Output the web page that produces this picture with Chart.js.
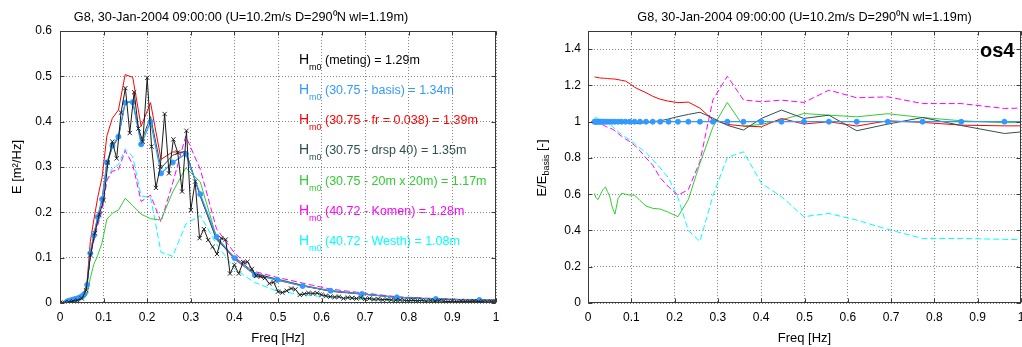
<!DOCTYPE html>
<html lang="en">
<head>
<meta charset="UTF-8">
<title>G8 spectra</title>
<script src="https://cdn.jsdelivr.net/npm/chart.js"></script>
<style>
html, body { margin: 0; padding: 0; overflow: hidden; background: #fff; }
body { width: 1022px; height: 347px; position: relative; }
#spec { position: absolute; left: -14px; top: 0; }
#ratio { position: absolute; left: 511px; top: 0; }
</style>
</head>
<body>
<canvas id="spec" width="524" height="347"></canvas>
<canvas id="ratio" width="529" height="347"></canvas>
<script>
// measured spectrum (buoy), df = 0.01 Hz
const measFreq = [
  0.00, 0.01, 0.02, 0.03, 0.04, 0.05, 0.06, 0.07, 0.08, 0.09,
  0.10, 0.11, 0.12, 0.13, 0.14, 0.15, 0.16, 0.17, 0.18, 0.19,
  0.20, 0.21, 0.22, 0.23, 0.24, 0.25, 0.26, 0.27, 0.28, 0.29,
  0.30, 0.31, 0.32, 0.33, 0.34, 0.35, 0.36, 0.37, 0.38, 0.39,
  0.40, 0.41, 0.42, 0.43, 0.44, 0.45, 0.46, 0.47, 0.48, 0.49,
  0.50, 0.51, 0.52, 0.53, 0.54, 0.55, 0.56, 0.57, 0.58, 0.59,
  0.60, 0.61, 0.62, 0.63, 0.64, 0.65, 0.66, 0.67, 0.68, 0.69,
  0.70, 0.71, 0.72, 0.73, 0.74, 0.75, 0.76, 0.77, 0.78, 0.79,
  0.80, 0.81, 0.82, 0.83, 0.84, 0.85, 0.86, 0.87, 0.88, 0.89,
  0.90, 0.91, 0.92, 0.93, 0.94, 0.95, 0.96, 0.97, 0.98, 0.99,
  1.00
];
const eMeting = [
  0.000, 0.001, 0.002, 0.004, 0.006, 0.010, 0.028, 0.106, 0.154, 0.195,
  0.227, 0.310, 0.356, 0.319, 0.420, 0.474, 0.375, 0.465, 0.385, 0.356,
  0.497, 0.345, 0.254, 0.300, 0.417, 0.286, 0.361, 0.332, 0.246, 0.380,
  0.205, 0.268, 0.143, 0.163, 0.139, 0.124, 0.108, 0.143, 0.140, 0.065,
  0.084, 0.065, 0.090, 0.091, 0.075, 0.060, 0.058, 0.055, 0.043, 0.046,
  0.025, 0.023, 0.027, 0.032, 0.030, 0.018, 0.020, 0.022, 0.021, 0.022,
  0.018, 0.016, 0.014, 0.013, 0.014, 0.010, 0.012, 0.011, 0.010, 0.012,
  0.009, 0.010, 0.008, 0.009, 0.007, 0.008, 0.007, 0.006, 0.007, 0.006,
  0.005, 0.006, 0.005, 0.006, 0.004, 0.005, 0.004, 0.005, 0.004, 0.003,
  0.004, 0.003, 0.004, 0.003, 0.003, 0.004, 0.003, 0.003, 0.002, 0.003,
  0.003
];

// model frequency grid (logarithmic)
const modelFreq = [
  0.0150, 0.0168, 0.0187, 0.0208, 0.0233, 0.0260, 0.0290, 0.0323, 0.0360, 0.0402,
  0.0448, 0.0500, 0.0558, 0.0623, 0.0695, 0.0775, 0.0865, 0.0965, 0.1076, 0.1201,
  0.1340, 0.1495, 0.1668, 0.1861, 0.2077, 0.2317, 0.2585, 0.2884, 0.3218, 0.3590,
  0.4006, 0.4469, 0.4986, 0.5563, 0.6207, 0.6925, 0.7726, 0.8620, 0.9618, 1.0731
];

// left panel: energy density E [m2/Hz]
const eBasis = [
  0.002, 0.003, 0.004, 0.005, 0.005, 0.006, 0.007, 0.008, 0.009, 0.010,
  0.012, 0.015, 0.020, 0.040, 0.110, 0.149, 0.190, 0.229, 0.310, 0.347,
  0.367, 0.442, 0.443, 0.350, 0.400, 0.286, 0.310, 0.329, 0.240, 0.146,
  0.099, 0.062, 0.051, 0.0375, 0.027, 0.0198, 0.0125, 0.0088, 0.0066, 0.0050
];
const eFr = [
  0.0025, 0.0037, 0.0050, 0.0062, 0.0062, 0.0075, 0.0087, 0.0099, 0.0112, 0.0124,
  0.0149, 0.0186, 0.0247, 0.0494, 0.1355, 0.1830, 0.2326, 0.2771, 0.3689, 0.4077,
  0.4257, 0.5039, 0.4979, 0.3896, 0.4420, 0.3169, 0.3333, 0.3323, 0.2364, 0.1425,
  0.0962, 0.0631, 0.0503, 0.0375, 0.0264, 0.0199, 0.0125, 0.0086, 0.0064, 0.0049
];
const eDrsp = [
  0.002, 0.003, 0.004, 0.005, 0.005, 0.006, 0.007, 0.008, 0.009, 0.010,
  0.012, 0.015, 0.020, 0.040, 0.110, 0.149, 0.190, 0.229, 0.3069, 0.3435,
  0.3652, 0.442, 0.4452, 0.3553, 0.4112, 0.2974, 0.3261, 0.3356, 0.2352, 0.1393,
  0.1008, 0.0660, 0.0519, 0.0389, 0.0257, 0.0195, 0.0128, 0.0086, 0.0062, 0.0048
];
const eGrid20 = [
  0.0012, 0.0018, 0.0024, 0.0029, 0.0029, 0.0035, 0.0042, 0.0050, 0.0058, 0.0063,
  0.0073, 0.0089, 0.0108, 0.0196, 0.055, 0.085, 0.105, 0.133, 0.185, 0.198,
  0.205, 0.231, 0.215, 0.196, 0.186, 0.183, 0.245, 0.298, 0.267, 0.145,
  0.0975, 0.0626, 0.0533, 0.0389, 0.0277, 0.0207, 0.0128, 0.0088, 0.0066, 0.0050
];
const eKomen = [
  0.0020, 0.0030, 0.0040, 0.0050, 0.0050, 0.0060, 0.0069, 0.0079, 0.0088, 0.0098,
  0.0116, 0.0145, 0.0192, 0.0380, 0.103, 0.137, 0.172, 0.204, 0.270, 0.291,
  0.294, 0.336, 0.306, 0.224, 0.238, 0.179, 0.265, 0.368, 0.295, 0.1635,
  0.110, 0.0694, 0.0564, 0.0440, 0.0306, 0.0225, 0.0138, 0.0097, 0.0071, 0.0054
];
const eWesth = [
  0.0020, 0.0031, 0.0041, 0.0051, 0.0051, 0.0061, 0.0070, 0.0080, 0.0090, 0.0100,
  0.0119, 0.0148, 0.0195, 0.0384, 0.104, 0.1386, 0.174, 0.206, 0.273, 0.297,
  0.305, 0.340, 0.323, 0.236, 0.233, 0.112, 0.103, 0.174, 0.193, 0.130,
  0.075, 0.045, 0.026, 0.0185, 0.0123, 0.0080, 0.0045, 0.0031, 0.0023, 0.0017
];

// right panel: E / E_basis [-]
const rBasis = [
  1, 1, 1, 1, 1, 1, 1, 1, 1, 1, 1, 1, 1, 1, 1, 1, 1, 1, 1, 1,
  1, 1, 1, 1, 1, 1, 1, 1, 1, 1, 1, 1, 1, 1, 1, 1, 1, 1, 1, 1
];
const rFr = [
  1.247, 1.246, 1.245, 1.244, 1.243, 1.242, 1.241, 1.240, 1.240, 1.239,
  1.238, 1.237, 1.236, 1.235, 1.232, 1.228, 1.224, 1.210, 1.190, 1.175,
  1.160, 1.140, 1.124, 1.113, 1.105, 1.108, 1.075, 1.010, 0.985, 0.976,
  0.972, 1.018, 0.987, 1.000, 0.976, 1.005, 0.996, 0.981, 0.977, 0.977
];
const rDrsp = [
  1.000, 1.000, 1.000, 1.000, 1.000, 1.000, 1.000, 1.000, 1.000, 1.000,
  1.000, 1.000, 1.000, 1.000, 1.000, 0.998, 0.996, 0.994, 0.990, 0.990,
  0.995, 1.000, 1.005, 1.015, 1.028, 1.040, 1.052, 1.020, 0.980, 0.954,
  1.018, 1.064, 1.018, 1.036, 0.950, 0.987, 1.023, 0.979, 0.935, 0.960
];
const rGrid20 = [
  0.604, 0.590, 0.580, 0.575, 0.571, 0.585, 0.600, 0.615, 0.630, 0.640,
  0.615, 0.590, 0.530, 0.490, 0.577, 0.605, 0.600, 0.595, 0.595, 0.565,
  0.535, 0.522, 0.518, 0.500, 0.476, 0.570, 0.770, 0.970, 1.106, 0.975,
  0.985, 1.010, 1.045, 1.036, 1.027, 1.044, 1.023, 1.005, 0.994, 1.000
];
const rKomen = [
  1.010, 1.010, 1.008, 1.005, 1.000, 0.995, 0.990, 0.985, 0.980, 0.975,
  0.970, 0.965, 0.960, 0.950, 0.935, 0.920, 0.905, 0.890, 0.870, 0.840,
  0.800, 0.760, 0.690, 0.640, 0.595, 0.625, 0.780, 1.120, 1.251, 1.120,
  1.110, 1.119, 1.106, 1.174, 1.132, 1.137, 1.100, 1.100, 1.073, 1.078
];
const rWesth = [
  1.020, 1.022, 1.023, 1.020, 1.015, 1.010, 1.005, 1.000, 0.998, 0.995,
  0.990, 0.985, 0.975, 0.960, 0.945, 0.930, 0.915, 0.900, 0.880, 0.855,
  0.830, 0.790, 0.745, 0.690, 0.580, 0.400, 0.340, 0.590, 0.803, 0.834,
  0.660, 0.586, 0.476, 0.494, 0.457, 0.406, 0.356, 0.356, 0.351, 0.347
];

const legendLabels = [
  '(meting) = 1.29m',
  '(30.75 - basis) = 1.34m',
  '(30.75 - fr = 0.038) = 1.39m',
  '(30.75 - drsp 40) = 1.35m',
  '(30.75 - 20m x 20m) = 1.17m',
  '(40.72 - Komen) = 1.28m',
  '(40.72 - Westh) = 1.08m'
];

const chartTitle = 'G8, 30-Jan-2004 09:00:00 (U=10.2m/s D=290\u2070N wl=1.19m)';

const BLACK = '#000000', BLUE = '#3399ff', RED = '#ff0000', SLATE = '#2f4f4f';
const GREEN = '#33cc33', MAGENTA = '#ff00ff', CYAN = '#00ffff';
const legendColors = [BLACK, BLUE, RED, SLATE, GREEN, MAGENTA, CYAN];

Chart.defaults.font.family = "'Liberation Sans', Arial, sans-serif";
Chart.defaults.color = '#000';

const fmt = v => String(Math.round(v * 10) / 10);

function series(xs, ys, color, extra) {
  return Object.assign({
    data: ys.map((y, i) => ({ x: xs[i], y: y })),
    borderColor: color,
    backgroundColor: color,
    borderWidth: 1,
    pointRadius: 0,
    fill: false
  }, extra || {});
}

function modelSets(vals) {
  return [
    series(modelFreq, vals[0], BLUE, { borderWidth: 1.2, pointRadius: 2.5, pointBorderWidth: 1, order: 1 }),
    series(modelFreq, vals[1], RED, { order: 3 }),
    series(modelFreq, vals[2], SLATE, { order: 2 }),
    series(modelFreq, vals[3], GREEN, { order: 4 }),
    series(modelFreq, vals[4], MAGENTA, { borderDash: [6, 3], order: 5 }),
    series(modelFreq, vals[5], CYAN, { borderDash: [6, 3], order: 6 })
  ];
}

function scalesFor(yMax, yStep, yWidth, yPad, yTitle) {
  const grid = { color: '#858585', lineWidth: 1, drawTicks: false };
  const border = { display: false, dash: [1, 2] };
  return {
    x: {
      type: 'linear', min: 0, max: 1,
      afterFit: s => { s.height = 44; },
      ticks: { stepSize: 0.1, autoSkip: false, maxRotation: 0, padding: 7, font: { size: 12 }, callback: fmt },
      grid: grid, border: border,
      title: { display: true, text: 'Freq [Hz]', font: { size: 13 }, padding: { top: 0, bottom: 1 } }
    },
    y: {
      min: 0, max: yMax,
      afterFit: s => { s.width = yWidth; },
      ticks: { stepSize: yStep, includeBounds: false, padding: yPad, font: { size: 12 }, callback: fmt },
      grid: grid, border: border,
      title: yTitle ? { display: true, text: yTitle, font: { size: 13 }, padding: { top: 24, bottom: 0 } } : { display: false }
    }
  };
}

// solid axes box with inward tick marks
const framePlugin = {
  id: 'frame',
  afterDraw(chart) {
    const { ctx, chartArea: a, scales } = chart;
    const l = Math.round(a.left) + 0.5, r = Math.round(a.right) - 0.5;
    const t = Math.round(a.top) + 0.5, b = Math.round(a.bottom) - 0.5;
    ctx.save();
    ctx.strokeStyle = '#3a3a3a';
    ctx.lineWidth = 1;
    ctx.strokeRect(l, t, r - l, b - t);
    ctx.beginPath();
    scales.x.ticks.forEach(tk => {
      const px = Math.round(scales.x.getPixelForValue(tk.value)) + 0.5;
      ctx.moveTo(px, b); ctx.lineTo(px, b - 4);
      ctx.moveTo(px, t); ctx.lineTo(px, t + 4);
    });
    scales.y.ticks.forEach(tk => {
      const py = Math.round(scales.y.getPixelForValue(tk.value)) + 0.5;
      ctx.moveTo(l, py); ctx.lineTo(l + 4, py);
      ctx.moveTo(r, py); ctx.lineTo(r - 4, py);
    });
    ctx.stroke();
    ctx.restore();
  }
};

const FONT = "'Liberation Sans', Arial, sans-serif";

const legendPlugin = {
  id: 'hm0Legend',
  beforeDraw(chart) {
    const ctx = chart.ctx;
    ctx.save();
    ctx.textBaseline = 'alphabetic';
    ctx.textAlign = 'left';
    legendLabels.forEach((txt, i) => {
      const y = 63.5 + i * 30.3;
      ctx.fillStyle = legendColors[i];
      ctx.font = '14px ' + FONT;
      ctx.fillText('H', 313, y);
      ctx.font = '9px ' + FONT;
      ctx.fillText('m0', 323, y + 6);
      ctx.font = '12.5px ' + FONT;
      ctx.fillText(txt, 339, y);
    });
    ctx.restore();
  }
};

const ratioNotes = {
  id: 'ratioNotes',
  afterDraw(chart) {
    const ctx = chart.ctx;
    ctx.save();
    ctx.fillStyle = '#000';
    ctx.font = 'bold 20px ' + FONT;
    ctx.textBaseline = 'alphabetic';
    ctx.fillText('os4', 469, 57);
    // y-axis title with subscript
    ctx.translate(31, 168);
    ctx.rotate(-Math.PI / 2);
    ctx.textBaseline = 'middle';
    const parts = [['E/E', 13, 0], ['basis', 9, 5], [' [-]', 13, 0]];
    let total = 0;
    parts.forEach(p => { ctx.font = p[1] + 'px ' + FONT; total += ctx.measureText(p[0]).width; });
    let x = -total / 2;
    parts.forEach(p => {
      ctx.font = p[1] + 'px ' + FONT;
      ctx.fillText(p[0], x, p[2]);
      x += ctx.measureText(p[0]).width;
    });
    ctx.restore();
  }
};

function titleOpts(fullSize) {
  return {
    display: true, text: chartTitle, color: '#000', fullSize: fullSize,
    font: { size: 12.7, weight: 'normal' },
    padding: { top: 9.6, bottom: 6.2 }
  };
}

const specSets = [
  series(measFreq, eMeting, '#1a1a1a', {
    pointStyle: 'crossRot', pointRadius: 3, pointBorderWidth: 1,
    pointBorderColor: '#222', order: 0
  })
].concat(modelSets([eBasis, eFr, eDrsp, eGrid20, eKomen, eWesth]));

new Chart(document.getElementById('spec'), {
  type: 'line',
  data: { datasets: specSets },
  options: {
    responsive: false, animation: false, devicePixelRatio: 1,
    layout: { padding: { left: 0, right: 14, top: 0, bottom: 0 } },
    plugins: { legend: { display: false }, tooltip: { enabled: false }, title: titleOpts(true) },
    scales: scalesFor(0.6, 0.1, 74, 8, 'E [m\u00b2/Hz]')
  },
  plugins: [framePlugin, legendPlugin]
});

new Chart(document.getElementById('ratio'), {
  type: 'line',
  data: { datasets: modelSets([rBasis, rFr, rDrsp, rGrid20, rKomen, rWesth]) },
  options: {
    responsive: false, animation: false, devicePixelRatio: 1,
    layout: { padding: { left: 0, right: 19, top: 0, bottom: 0 } },
    plugins: { legend: { display: false }, tooltip: { enabled: false }, title: titleOpts(false) },
    scales: scalesFor(1.5, 0.2, 77, 7, null)
  },
  plugins: [framePlugin, ratioNotes]
});
</script>
</body>
</html>
